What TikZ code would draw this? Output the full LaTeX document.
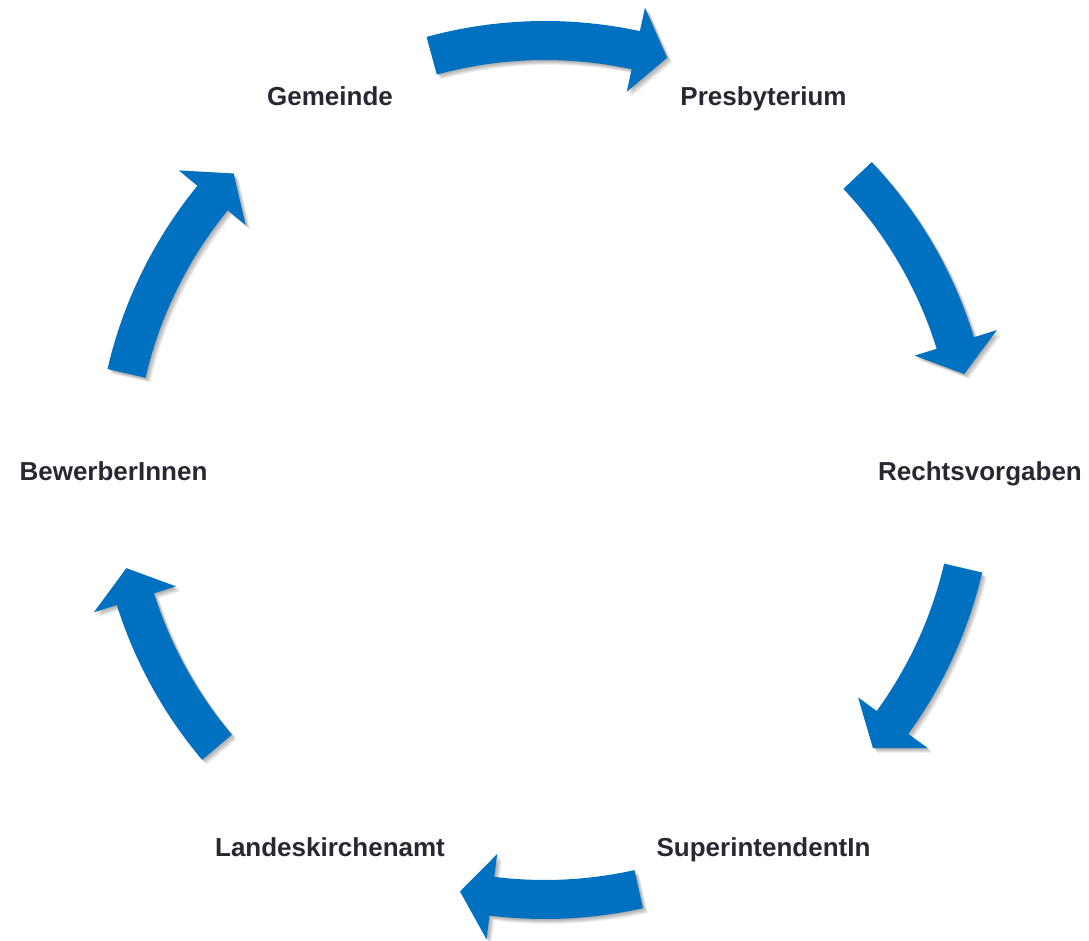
\documentclass[tikz,border=0pt]{standalone}
\usepackage{fontspec}
\setmainfont{Liberation Sans}
\definecolor{arrowblue}{RGB}{0,112,192}
\definecolor{labeltext}{RGB}{40,40,50}
\tikzset{
  lbl/.style={font=\fontsize{26}{30}\selectfont\bfseries, text=labeltext, inner sep=0pt, anchor=base},
}
\newcommand{\arrowshape}[2]{(#1:449) arc[start angle=#1, end angle=\hb, radius=449] -- (\hb:473) -- (#2:430) -- (\hb:387) -- (\hb:410) arc[start angle=\hb, end angle=#1, radius=410] -- cycle}
\newcommand{\blockarrow}[2]{%
  \pgfmathsetmacro{\hb}{#2+4.3}%
  \foreach \s in {1,...,7} {
    \fill[black, opacity=0.05, shift={(\s*0.7pt,-\s*0.7pt)}] \arrowshape{#1}{#2};
  }
  \fill[arrowblue] \arrowshape{#1}{#2};
}
\begin{document}
\begin{tikzpicture}[x=1pt,y=1pt]
\useasboundingbox (0,0) rectangle (1089,940);
\fill[white] (0,0) rectangle (1089,940);
\coordinate (c) at (545,470);
\begin{scope}[shift={(c)}]
  \blockarrow{105.3}{73.5}
  \blockarrow{43.3}{12.9}
  \blockarrow{-13.2}{-40.3}
  \blockarrow{-77.4}{-101.4}
  \blockarrow{-139.8}{-166.8}
  \blockarrow{167}{136.4}
\end{scope}
\node[lbl] (gem) at (330,834) {Gemeinde};
\node[lbl] (pres) at (763.5,834) {Presbyterium};
\node[lbl] (recht) at (980,459.5) {Rechtsvorgaben};
\node[lbl] (sup) at (763.5,83.5) {SuperintendentIn};
\node[lbl] (lka) at (330,83.5) {Landeskirchenamt};
\node[lbl] (bew) at (113.5,459.5) {BewerberInnen};
\end{tikzpicture}
\end{document}
